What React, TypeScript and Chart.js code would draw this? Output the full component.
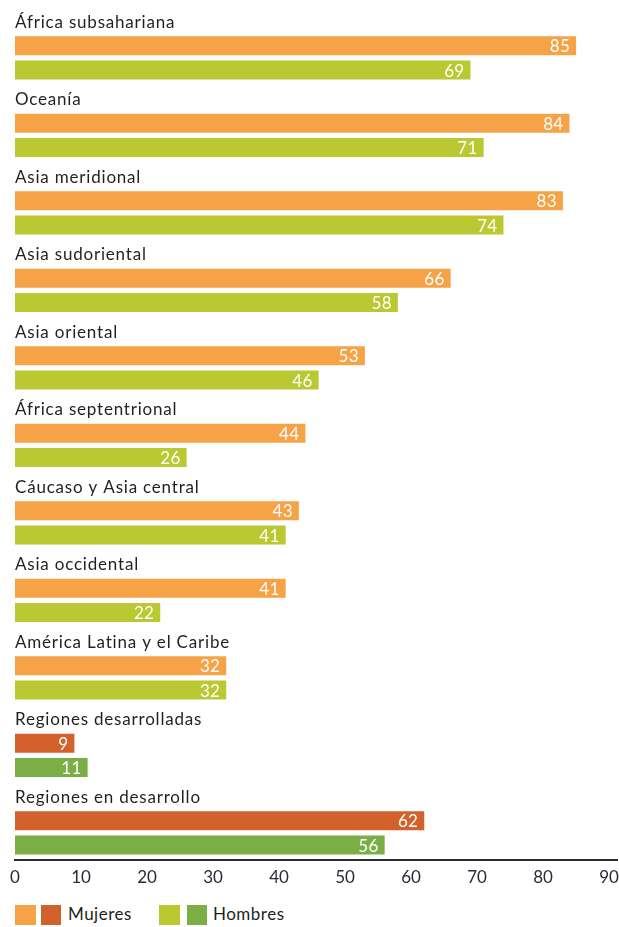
import React, { useEffect, useRef } from 'react';
import { Chart, registerables } from 'chart.js';

Chart.register(...registerables);

const CATEGORIES = [
  'África subsahariana',
  'Oceanía',
  'Asia meridional',
  'Asia sudoriental',
  'Asia oriental',
  'África septentrional',
  'Cáucaso y Asia central',
  'Asia occidental',
  'América Latina y el Caribe',
  'Regiones desarrolladas',
  'Regiones en desarrollo',
];
const MUJERES = [85, 84, 83, 66, 53, 44, 43, 41, 32, 9, 62];
const HOMBRES = [69, 71, 74, 58, 46, 26, 41, 22, 32, 11, 56];
const AGGREGATES = ['Regiones desarrolladas', 'Regiones en desarrollo'];
const X_TICKS = [0, 10, 20, 30, 40, 50, 60, 70, 80, 90];
const SERIES_NAMES = ['Mujeres', 'Hombres'];

const FONT = 'Lato, "Open Sans", sans-serif';
const TEXT_COLOR = '#231f20';
const C_MUJ = '#F6A247';
const C_MUJ_AGG = '#D2612B';
const C_HOM = '#BAC832';
const C_HOM_AGG = '#7BAE45';

const labelPlugin = {
  id: 'regionLabels',
  afterDatasetsDraw(chart: any) {
    const ctx = chart.ctx;
    const mMeta = chart.getDatasetMeta(1);
    const hMeta = chart.getDatasetMeta(2);
    ctx.save();
    ctx.font = `17px ${FONT}`;
    try {
      (ctx as any).letterSpacing = '0.8px';
    } catch (e) {}
    ctx.fillStyle = TEXT_COLOR;
    ctx.textAlign = 'left';
    ctx.textBaseline = 'alphabetic';
    mMeta.data.forEach((el: any, i: number) => {
      const p = el.getProps(['y', 'height'], true);
      ctx.fillText(CATEGORIES[i], chart.chartArea.left, p.y - Math.abs(p.height) / 2 - 8.5);
    });
    try {
      (ctx as any).letterSpacing = '0.3px';
    } catch (e) {}
    ctx.fillStyle = '#ffffff';
    ctx.textAlign = 'right';
    ctx.textBaseline = 'middle';
    const pairs: [any, number[]][] = [
      [mMeta, MUJERES],
      [hMeta, HOMBRES],
    ];
    pairs.forEach(([meta, vals]) => {
      meta.data.forEach((el: any, i: number) => {
        const p = el.getProps(['x', 'y'], true);
        ctx.fillText(String(vals[i]), p.x - 6, p.y + 1);
      });
    });
    ctx.restore();
  },
};

export default function App() {
  const ref = useRef<HTMLCanvasElement | null>(null);

  useEffect(() => {
    if (!ref.current) return;
    const chart = new Chart(ref.current, {
      type: 'bar',
      data: {
        labels: CATEGORIES,
        datasets: [
          { label: '', data: CATEGORIES.map(() => null) as any },
          {
            label: SERIES_NAMES[0],
            data: MUJERES,
            backgroundColor: CATEGORIES.map((c) => (AGGREGATES.includes(c) ? C_MUJ_AGG : C_MUJ)),
          },
          {
            label: SERIES_NAMES[1],
            data: HOMBRES,
            backgroundColor: CATEGORIES.map((c) => (AGGREGATES.includes(c) ? C_HOM_AGG : C_HOM)),
          },
        ],
      },
      options: {
        indexAxis: 'y',
        responsive: false,
        maintainAspectRatio: false,
        animation: false,
        layout: { padding: { left: 15, right: 2, top: 7, bottom: 8.5 } },
        datasets: {
          bar: { categoryPercentage: 0.9406, barPercentage: 0.782, borderWidth: 0 },
        },
        plugins: {
          legend: { display: false },
          tooltip: { enabled: false },
        },
        scales: {
          y: { type: 'category', display: false, offset: true },
          x: {
            type: 'linear',
            min: 0,
            max: 91.2,
            grid: { display: false, drawTicks: false },
            border: { display: true, color: '#2b2b2b', width: 2 },
            ticks: {
              font: { family: FONT, size: 17 },
              color: '#2a2a3a',
              padding: 8,
              autoSkip: false,
              maxRotation: 0,
            },
            afterBuildTicks: (s: any) => {
              s.ticks = X_TICKS.map((v) => ({ value: v }));
            },
            afterFit: (s: any) => {
              s.paddingLeft = 0;
              s.paddingRight = 0;
              s.height = 32;
            },
          },
        },
      } as any,
      plugins: [labelPlugin],
    });
    return () => chart.destroy();
  }, []);

  const box = (left: number, color: string, width = 21) => (
    <div
      style={{
        position: 'absolute',
        left,
        top: 905,
        width,
        height: 20,
        background: color,
      }}
    />
  );
  const text = (left: number, s: string) => (
    <div
      style={{
        position: 'absolute',
        left,
        top: 903,
        height: 24,
        lineHeight: '24px',
        font: `17px ${FONT}`,
        letterSpacing: '0.5px',
        color: TEXT_COLOR,
        whiteSpace: 'nowrap',
      }}
    >
      {s}
    </div>
  );

  return (
    <div style={{ position: 'absolute', left: 0, top: 0, width: 619, height: 927, background: '#fff' }}>
      <canvas ref={ref} width={619} height={900} style={{ position: 'absolute', left: 0, top: 0 }} />
      {box(15, C_MUJ)}
      {box(41, C_MUJ_AGG, 20)}
      {text(68, SERIES_NAMES[0])}
      {box(159, C_HOM)}
      {box(187, C_HOM_AGG, 20)}
      {text(213, SERIES_NAMES[1])}
    </div>
  );
}
